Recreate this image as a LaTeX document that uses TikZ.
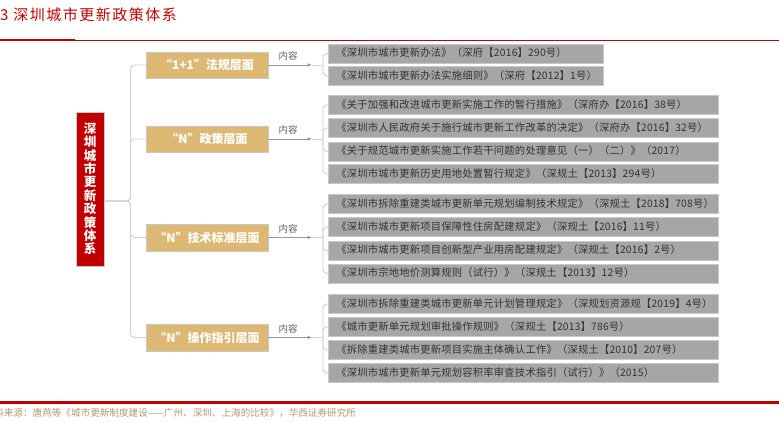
\documentclass[tikz,border=0pt]{standalone}
\usepackage{fontspec}
\setmainfont{Noto Sans CJK SC}
\usetikzlibrary{arrows.meta}
\definecolor{titlered}{HTML}{C00000}
\definecolor{goldfill}{HTML}{DDB873}
\definecolor{grayfill}{HTML}{A6A6A6}
\definecolor{grayedge}{HTML}{C8C8C8}
\definecolor{connc}{HTML}{D0D0D0}
\definecolor{txtdark}{HTML}{333333}
\definecolor{srcc}{HTML}{B8956A}
\tikzset{
  rootbox/.style={draw=grayedge, fill=titlered, text=white, font=\bfseries\fontsize{12.5}{13.4}\selectfont, minimum width=28pt, minimum height=154pt, align=center, inner sep=0pt},
  layerbox/.style={draw=grayedge, fill=goldfill, text=white, font=\bfseries\fontsize{12}{14}\selectfont, minimum width=122pt, minimum height=26.5pt, inner sep=0pt},
  docbox/.style={draw=grayedge, line width=0.8pt, fill=grayfill, text=txtdark, font=\fontsize{10.3}{12}\selectfont\addfontfeatures{LetterSpace=2}, minimum height=19pt, inner xsep=8pt, inner ysep=0pt, anchor=west, align=left, text height=8.5pt, text depth=2pt},
  shortdoc/.style={docbox, minimum width=275pt, text width=259pt},
  longdoc/.style={docbox, minimum width=390pt, text width=374pt},
  conn/.style={draw=connc, line width=0.9pt, rounded corners=4pt},
  lbl/.style={text=txtdark!80, font=\fontsize{9.5}{11}\selectfont, inner sep=0pt}
}
\begin{document}
\begin{tikzpicture}[x=1pt,y=-1pt]
\useasboundingbox (0,0) rectangle (779,422);
% title
\node[anchor=west, text=titlered, font=\fontsize{15}{16}\selectfont\addfontfeatures{LetterSpace=10}, inner sep=0pt] (title) at (0,15) {3 深圳城市更新政策体系};
\draw[titlered, line width=0.8pt] (75,40.3) -- (779,40.3);
\draw[titlered, line width=2pt] (0,40.3) -- (75,40.3);
% footer
\draw[titlered, line width=2.6pt] (0,402.5) -- (779,402.5);
\node[anchor=west, text=srcc, font=\fontsize{9.6}{11}\selectfont, inner sep=0pt] (src) at (-15.5,413) {资料来源：唐燕等《城市更新制度建设——广州、深圳、上海的比较》，华西证券研究所};
% root
\node[rootbox] (root) at (90,189) {深\\圳\\城\\市\\更\\新\\政\\策\\体\\系};
% layers
\node[layerbox] (g1) at (207,65) {“1+1”法规层面};
\node[layerbox] (g2) at (207,139) {“N”政策层面};
\node[layerbox] (g3) at (207,237.5) {“N”技术标准层面};
\node[layerbox] (g4) at (207,337.5) {“N”操作指引层面};
% root connectors
\coordinate (rs) at (104,201);
\coordinate (rj) at (130.5,201);
\foreach \g in {g1,g2,g3,g4} {\draw[conn] (rs) -- (rj) |- (\g.west);}
% documents group 1
\node[shortdoc] (d11) at (328,53.5) {《深圳市城市更新办法》（深府【2016】290号）};
\node[shortdoc] (d12) at (328,76) {《深圳市城市更新办法实施细则》（深府【2012】1号）};
% group 2
\node[longdoc] (d21) at (328,105) {《关于加强和改进城市更新实施工作的暂行措施》（深府办【2016】38号）};
\node[longdoc] (d22) at (328,128) {《深圳市人民政府关于施行城市更新工作改革的决定》（深府办【2016】32号）};
\node[longdoc] (d23) at (328,151.5) {《关于规范城市更新实施工作若干问题的处理意见（一）（二）》（2017）};
\node[longdoc] (d24) at (328,174) {《深圳市城市更新历史用地处置暂行规定》（深规土【2013】294号）};
% group 3
\node[longdoc] (d31) at (328,204) {《深圳市拆除重建类城市更新单元规划编制技术规定》（深规土【2018】708号）};
\node[longdoc] (d32) at (328,227) {《深圳市城市更新项目保障性住房配建规定》（深规土【2016】11号）};
\node[longdoc] (d33) at (328,250.5) {《深圳市城市更新项目创新型产业用房配建规定》（深规土【2016】2号）};
\node[longdoc] (d34) at (328,273.5) {《深圳市宗地地价测算规则（试行）》（深规土【2013】12号）};
% group 4
\node[longdoc] (d41) at (328,304) {《深圳市拆除重建类城市更新单元计划管理规定》（深规划资源规【2019】4号）};
\node[longdoc] (d42) at (328,327) {《城市更新单元规划审批操作规则》（深规土【2013】786号）};
\node[longdoc] (d43) at (328,350) {《拆除重建类城市更新项目实施主体确认工作》（深规土【2010】207号）};
\node[longdoc] (d44) at (328,373) {《深圳市城市更新单元规划容积率审查技术指引（试行）》（2015）};
% arrows with labels
\foreach \g/\y in {g1/65,g2/139,g3/237.5,g4/337.5} {
  \coordinate (\g a) at (312,\y);
  \coordinate (\g j) at (323,\y);
  \draw[draw=connc, line width=0.9pt, -{Latex[length=4.5pt,width=4pt]}, color=gray!80] (\g.east) -- (\g a);
  \draw[conn] (\g a) -- (\g j);
  \node[lbl] at (288,\y-9) {内容};
}
\foreach \d in {d11,d12} {\draw[conn] (g1j) |- (\d.west);}
\foreach \d in {d21,d22,d23,d24} {\draw[conn] (g2j) |- (\d.west);}
\foreach \d in {d31,d32,d33,d34} {\draw[conn] (g3j) |- (\d.west);}
\foreach \d in {d41,d42,d43,d44} {\draw[conn] (g4j) |- (\d.west);}
\end{tikzpicture}
\end{document}
